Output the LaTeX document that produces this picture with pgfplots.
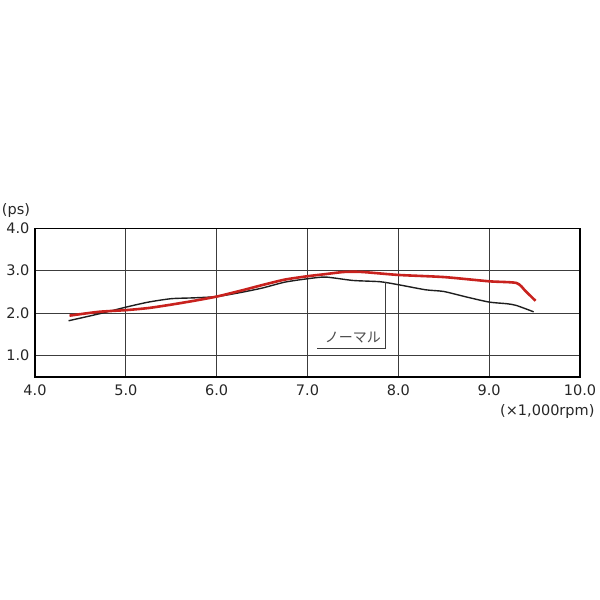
\documentclass[border=0pt]{standalone}
\usepackage{pgfplots}
\pgfplotsset{compat=1.18}
\usepackage{fontspec}
\setmainfont{DejaVu Sans}
\newfontfamily\jpfont{Noto Sans CJK JP}
\definecolor{redline}{RGB}{200,34,30}
\definecolor{blackline}{RGB}{30,30,30}
\definecolor{gridc}{RGB}{60,60,60}
\begin{document}
\begin{tikzpicture}
\useasboundingbox (-35pt,-223.3pt) rectangle (565pt,376.7pt);
\begin{axis}[
  at={(0pt,0pt)}, anchor=south west,
  scale only axis, width=545pt, height=148.4pt,
  xmin=4, xmax=10, ymin=0.5, ymax=4,
  xtick={4,5,6,7,8,9,10}, ytick={1,2,3,4},
  xticklabels={4.0,5.0,6.0,7.0,8.0,9.0,10.0},
  yticklabels={1.0,2.0,3.0,4.0},
  major tick length=0pt,
  grid=major,
  major grid style={gridc, line width=1pt},
  axis line style={black, line width=1.6pt},
  tick label style={font=\fontsize{14.5}{16}\selectfont, text=black!85},
  xticklabel style={yshift=-5pt},
  yticklabel style={xshift=-2pt},
  /pgf/number format/assume math mode=true,
  clip=false,
]
\addplot[blackline, line width=1.4pt, smooth, tension=0.4] coordinates {
(4.37,1.82) (4.7,1.98) (5.0,2.14) (5.25,2.26) (5.5,2.34) (5.75,2.36) (6.0,2.39) (6.25,2.48) (6.5,2.59) (6.75,2.73) (7.0,2.81) (7.2,2.85) (7.5,2.77) (7.8,2.74) (8.0,2.67) (8.3,2.55) (8.5,2.51) (8.75,2.38) (9.0,2.26) (9.2,2.22) (9.3,2.18) (9.49,2.03)
};
\addplot[redline, line width=2.6pt, smooth, tension=0.4] coordinates {
(4.38,1.94) (4.7,2.03) (5.0,2.07) (5.25,2.12) (5.5,2.2) (5.75,2.29) (6.0,2.39) (6.25,2.52) (6.5,2.66) (6.75,2.79) (7.0,2.87) (7.2,2.92) (7.4,2.97) (7.6,2.97) (8.0,2.90) (8.5,2.85) (9.0,2.75) (9.3,2.71) (9.4,2.52) (9.51,2.29)
};
\draw[gridc, line width=0.8pt] (axis cs:7.86,2.73) -- (axis cs:7.86,1.17) -- (axis cs:7.10,1.17);
\node[text=black!70, font=\jpfont\fontsize{14}{16}\selectfont] at (axis cs:7.5,1.42) {ノーマル};
\node[text=black!85, font=\fontsize{14.5}{16}\selectfont] at (axis cs:3.79,4.43) {(ps)};
\node[text=black!85, font=\fontsize{14.5}{16}\selectfont] at (axis cs:9.64,-0.31) {(×1,000rpm)};
\end{axis}
\end{tikzpicture}
\end{document}
